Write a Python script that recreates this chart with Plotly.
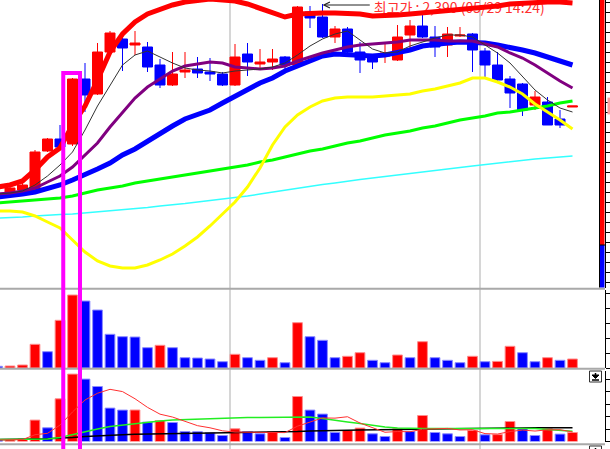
import plotly.graph_objects as go
import pandas as pd

# ---------------- data (daily candles, index 0..46) ----------------
idx = list(range(47))
open_ = [1430,1450,1460,1455,1655,1715,1690,2015,1940,2150,2215,2185,2175,2085,1985,2050,2065,2050,2040,1985,
         2140,2090,2100,2125,2085,2350,2325,2225,2265,2150,2135,2130,2110,2235,2280,2225,2185,2230,2240,2155,
         2085,2015,1990,1885,1900,1815,1875]
high = [1450,1480,1495,1660,1720,1785,2020,2095,2195,2255,2230,2255,2200,2115,2150,2150,2125,2120,2050,2190,
        2195,2165,2165,2130,2380,2380,2390,2280,2275,2200,2140,2195,2285,2310,2340,2280,2275,2275,2245,2170,
        2150,2030,1995,1955,1925,1860,1880]
low = [1420,1445,1450,1445,1650,1660,1680,1850,1935,2145,2055,2135,2050,1970,1980,2020,2020,2005,1980,1980,
       2030,2060,2060,2060,2080,2270,2220,2195,2145,2045,2065,2095,2105,2170,2220,2125,2125,2225,2050,2025,
       2005,1870,1830,1860,1785,1770,1875]
close = [1440,1470,1485,1650,1715,1675,2015,1935,2150,2245,2170,2195,2075,1985,2040,2060,2045,2040,1985,2125,
         2100,2100,2115,2085,2375,2320,2225,2265,2150,2110,2100,2145,2225,2280,2225,2175,2240,2235,2160,2085,
         2010,1945,1860,1925,1785,1785,1880]

ma5 = [1440,1445,1455,1485,1530,1585,1650,1760,1880,1985,2085,2135,2155,2125,2095,2070,2060,2055,2045,2055,
       2060,2065,2075,2095,2135,2180,2215,2240,2255,2210,2165,2145,2150,2180,2200,2220,2235,2235,2225,2185,
       2145,2095,2025,1960,1910,1870,1850]
ma10 = [1440,1445,1455,1470,1500,1530,1575,1635,1695,1775,1850,1920,1975,2015,2055,2080,2090,2100,2095,2075,
        2070,2065,2070,2080,2105,2125,2145,2160,2175,2185,2190,2195,2200,2210,2210,2210,2205,2205,2205,2190,
        2175,2145,2120,2085,2045,2005,1970]
ma20 = [1425,1430,1440,1450,1465,1485,1510,1535,1565,1595,1635,1665,1705,1740,1780,1815,1840,1860,1895,1930,
        1960,1995,2020,2055,2080,2105,2130,2140,2135,2130,2130,2135,2145,2160,2180,2190,2195,2200,2200,2195,
        2185,2175,2160,2145,2125,2100,2085]
ma60 = [1395,1400,1405,1410,1415,1420,1430,1445,1460,1470,1480,1495,1505,1515,1525,1535,1545,1555,1565,1575,
        1585,1600,1610,1625,1640,1655,1665,1680,1695,1705,1720,1735,1745,1755,1770,1780,1795,1810,1820,1830,
        1845,1850,1860,1870,1880,1895,1905]
ma120 = [1320,1322,1325,1330,1335,1337,1340,1345,1350,1355,1360,1365,1372,1380,1385,1392,1400,1407,1415,1422,
         1430,1440,1450,1460,1470,1480,1487,1495,1505,1512,1520,1527,1535,1542,1550,1557,1565,1572,1580,1587,
         1595,1602,1610,1615,1620,1625,1630]
bb_upper = [1475,1485,1505,1560,1625,1670,1785,1880,2010,2150,2240,2300,2340,2365,2385,2400,2410,2415,2410,2405,
            2390,2370,2345,2325,2340,2345,2345,2345,2345,2340,2330,2330,2335,2340,2345,2350,2355,2360,2370,2375,
            2380,2390,2395,2400,2400,2400,2395]
bb_lower = [1355,1355,1350,1330,1300,1270,1210,1150,1105,1080,1070,1070,1085,1110,1140,1180,1225,1280,1340,1400,
            1475,1570,1685,1775,1835,1875,1905,1920,1925,1925,1925,1930,1935,1940,1955,1965,1980,1995,2020,2020,
            2000,1975,1940,1890,1850,1810,1765]

volume = [17,20,30,237,163,477,730,670,580,337,313,310,203,227,203,103,100,90,63,137,103,77,103,53,453,313,
          277,103,117,153,77,53,130,103,263,103,77,53,117,63,66,217,153,63,103,77,90]
trade_value = [15,17,25,214,137,427,674,624,550,334,314,315,194,210,190,100,98,87,60,127,100,77,100,40,450,314,
               274,90,110,134,77,50,127,100,260,90,77,50,110,67,69,200,127,60,127,74,90]
tv_ma20 = [20,20,20,20,25,40,70,100,125,150,165,180,195,205,215,220,225,230,230,235,240,240,240,240,243,245,
           230,210,195,180,160,145,135,130,130,130,130,130,130,130,130,130,130,130,120,110,103]
tv_ma60 = [20,20,22,25,28,32,40,50,58,63,68,72,74,76,78,80,82,84,86,87,88,89,90,92,100,105,110,112,113,115,117,
           118,119,120,124,125,127,128,130,132,133,135,136,137,137,137,137]

month_breaks = [18.6, 38.6]
highlight_day = 6
peak_day = 26
peak_label = "최고가 : 2,390 (05/29 14:24)"

# ---------------- helpers ----------------
W, H = 610, 449
def px(p):
    return p / W
def py(p):
    return 1 - p / H

RED, BLUE = "#ff0000", "#0000ff"

def up_colors(vals):
    cols = [BLUE]
    for a, b in zip(vals[:-1], vals[1:]):
        cols.append(RED if b > a else BLUE)
    return cols

tv_ma5 = pd.Series(trade_value).rolling(5, min_periods=1).mean().tolist()

fig = go.Figure()

# label under the lines
fig.add_trace(go.Scatter(
    x=[peak_day + 4.1], y=[2362], mode="text", text=[peak_label],
    textposition="middle right", cliponaxis=False, hoverinfo="skip",
    textfont=dict(family="Noto Sans CJK KR", size=14, color="#ff3030"),
    xaxis="x", yaxis="y", showlegend=False))

lines = [
    (ma120, "#33ffff", 1.5),
    (ma60, "#00ff00", 3),
    (bb_lower, "#ffff00", 3),
    (bb_upper, "#ff0000", 5),
    (ma20, "#0000ff", 5),
    (ma10, "#800080", 3),
    (ma5, "#333333", 1),
]
for vals, col, w in lines:
    fig.add_trace(go.Scatter(x=idx, y=vals, mode="lines", line=dict(color=col, width=w),
                             xaxis="x", yaxis="y", showlegend=False, hoverinfo="skip"))

fig.add_trace(go.Candlestick(
    x=idx, open=open_, high=high, low=low, close=close,
    increasing=dict(line=dict(color=RED, width=1), fillcolor=RED),
    decreasing=dict(line=dict(color=BLUE, width=1), fillcolor=BLUE),
    whiskerwidth=0, xaxis="x", yaxis="y", showlegend=False))

vcols = up_colors(volume)
fig.add_trace(go.Bar(x=idx, y=volume, width=0.78,
                     marker=dict(color=vcols, line=dict(color=["#ff8c8c" if c == RED else "#8c8cff" for c in vcols], width=1)),
                     xaxis="x2", yaxis="y2", showlegend=False))

tcols = up_colors(trade_value)
fig.add_trace(go.Bar(x=idx, y=trade_value, width=0.78,
                     marker=dict(color=tcols, line=dict(color=["#ff8c8c" if c == RED else "#8c8cff" for c in tcols], width=1)),
                     xaxis="x3", yaxis="y3", showlegend=False))
for vals, col, w in [(tv_ma60, "#000000", 1.5), (tv_ma20, "#22ee22", 1.5), (tv_ma5, "#ff3030", 1)]:
    fig.add_trace(go.Scatter(x=idx, y=vals, mode="lines", line=dict(color=col, width=w),
                             xaxis="x3", yaxis="y3", showlegend=False, hoverinfo="skip"))

# ---------------- layout ----------------
xcommon = dict(domain=[0, px(599)], range=[0.2, 48.12], showgrid=False, zeroline=False,
               showticklabels=False, ticks="", showline=False, fixedrange=True)
ycommon = dict(side="right", anchor="free", showline=True, linecolor="black", linewidth=1,
               ticks="outside", ticklen=4, tickcolor="black", tickwidth=1, showticklabels=False,
               showgrid=False, zeroline=False, fixedrange=True)

shapes = []
for mb in month_breaks:
    shapes.append(dict(type="line", xref="x", yref="paper", x0=mb, x1=mb, y0=py(449), y1=1,
                       line=dict(color="#d6d6d6", width=2), layer="below"))
for sy in [288.7, 368.7, 444.3]:
    shapes.append(dict(type="line", xref="paper", yref="paper", x0=0, x1=px(605), y0=py(sy), y1=py(sy),
                       line=dict(color="#a9a9a9", width=2)))
# right price strip
shapes += [
    dict(type="rect", xref="paper", yref="paper", x0=px(600), x1=px(604.5), y0=py(245), y1=1,
         fillcolor=RED, line=dict(width=0)),
    dict(type="rect", xref="paper", yref="paper", x0=px(600), x1=px(604.5), y0=py(287.5), y1=py(245),
         fillcolor=BLUE, line=dict(width=0)),
    dict(type="line", xref="paper", yref="paper", x0=px(599.5), x1=px(599.5), y0=py(287.5), y1=1,
         line=dict(color="black", width=1)),
    dict(type="line", xref="paper", yref="paper", x0=px(600), x1=px(605), y0=py(245), y1=py(245),
         line=dict(color="black", width=1)),
    dict(type="rect", xref="paper", yref="y", x0=px(607.5), x1=1.0, y0=close[-1] - 42, y1=close[-1] + 42,
         fillcolor="#ff9c9c", line=dict(width=0)),
]
# panel icons
for top in [371, 446]:
    shapes += [
        dict(type="rect", xref="paper", yref="paper", x0=px(589.5), x1=px(601.5), y0=py(top + 11), y1=py(top),
             fillcolor="white", line=dict(color="#333333", width=1)),
        dict(type="path", xref="paper", yref="paper",
             path=f"M {px(592)} {py(top+4)} L {px(599)} {py(top+4)} L {px(595.5)} {py(top+7.5)} Z",
             fillcolor="black", line=dict(color="black", width=1)),
        dict(type="line", xref="paper", yref="paper", x0=px(595.5), x1=px(595.5), y0=py(top + 4), y1=py(top + 2),
             line=dict(color="black", width=1.5)),
        dict(type="line", xref="paper", yref="paper", x0=px(592), x1=px(599), y0=py(top + 9), y1=py(top + 9),
             line=dict(color="black", width=1.5)),
    ]
# highlight box around the breakout candle
shapes.append(dict(type="rect", xref="x", yref="paper", x0=highlight_day - 0.74, x1=highlight_day + 0.6,
                   y0=-0.05, y1=py(73), line=dict(color="#ff00ff", width=4), fillcolor="rgba(0,0,0,0)",
                   layer="above"))

fig.update_layout(
    width=W, height=H, margin=dict(l=0, r=0, t=0, b=0),
    paper_bgcolor="white", plot_bgcolor="white", showlegend=False,
    boxgap=0.2, boxgroupgap=0, hovermode=False,
    xaxis=dict(**xcommon, anchor="y", rangeslider=dict(visible=False)),
    xaxis2=dict(**xcommon, anchor="y2", matches="x"),
    xaxis3=dict(**xcommon, anchor="y3", matches="x"),
    yaxis=dict(**ycommon, domain=[py(288), 1], range=[970, 2410], position=px(605), dtick=50, tick0=0),
    yaxis2=dict(**ycommon, domain=[py(368), py(290)], range=[0, 780], position=px(604.5), dtick=150, tick0=0),
    yaxis3=dict(**ycommon, domain=[py(441.5), py(371)], range=[0, 705], position=px(604.5), dtick=125, tick0=0),
    shapes=shapes,
    annotations=[dict(x=peak_day, y=2385, ax=peak_day + 3.9, ay=2385, xref="x", yref="y", axref="x", ayref="y",
                      text="", showarrow=True, arrowhead=5, arrowsize=1.2, arrowwidth=1, arrowcolor="#222222")],
)

fig.write_html("out.html", config={"displayModeBar": False},
               post_script="document.body.style.margin='0';document.body.style.padding='0';")
